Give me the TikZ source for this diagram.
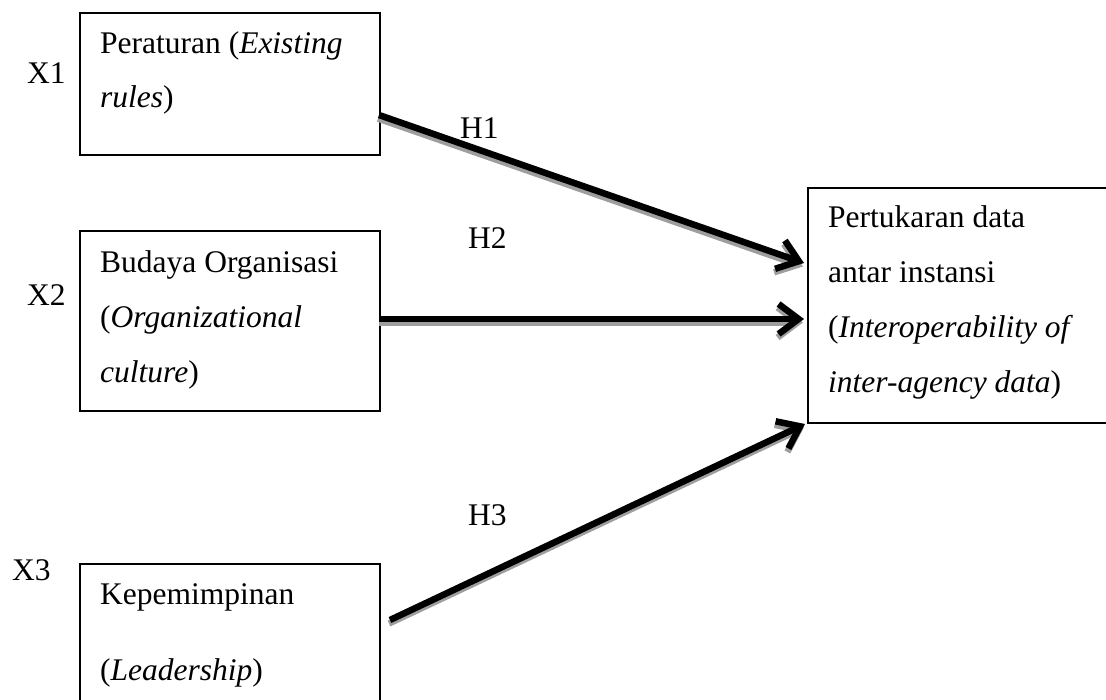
\documentclass[tikz,border=0pt]{standalone}
\usepackage{fontspec}
\setmainfont{Liberation Serif}
\usetikzlibrary{arrows.meta}
\begin{document}
\begin{tikzpicture}[x=1pt,y=-1pt,
  box/.style={draw=black,line width=1.6pt,fill=none,inner sep=0pt,anchor=north west},
  txt/.style={anchor=base west,inner sep=0pt,font=\fontsize{31.5}{38}\selectfont},
  link/.style={line width=6.5pt,-{Straight Barb[length=20pt,width=30pt]}},
  linkshadow/.style={link,draw=black!38}]
\useasboundingbox (0,0) rectangle (1106,699);
\begin{scope}
\clip (0,0) rectangle (1106,699);
% boxes
\node[box,minimum width=300pt,minimum height=142pt] (b1) at (79,12) {};
\node[box,minimum width=300pt,minimum height=180pt] (b2) at (79,230) {};
\node[box,minimum width=300pt,minimum height=150pt] (b3) at (79,563) {};
\node[box,minimum width=305pt,minimum height=235pt] (b4) at (807,187) {};
\end{scope}
% box texts
\node[txt] (t11) at (100,53) {Peraturan (\textit{Existing}};
\node[txt] (t12) at (100,107) {\textit{rules})};
\node[txt] (t21) at (100,272) {Budaya Organisasi};
\node[txt] (t22) at (100,327) {(\textit{Organizational}};
\node[txt] (t23) at (100,382) {\textit{culture})};
\node[txt] (t31) at (100,604) {Kepemimpinan};
\node[txt] (t32) at (100,680) {(\textit{Leadership})};
\node[txt] (t41) at (828,227) {Pertukaran data};
\node[txt] (t42) at (828,282) {antar instansi};
\node[txt] (t43) at (828,337) {(\textit{Interoperability of}};
\node[txt] (t44) at (828,392) {\textit{inter-agency data})};
% variable labels
\node[txt] (x1) at (27,83) {X1};
\node[txt] (x2) at (27,305) {X2};
\node[txt] (x3) at (12,580) {X3};
% connector end points
\coordinate (s1) at (379,115);
\coordinate (e1) at (804,263);
\coordinate (s2) at (379,319);
\coordinate (e2) at (804,319);
\coordinate (s3) at (390,620);
\coordinate (e3) at (805,424);
% shadows
\draw[linkshadow] ([shift={(-1,3.5)}]s1) -- ([shift={(-1,3.5)}]e1);
\draw[linkshadow] ([shift={(0,3.5)}]s2) -- ([shift={(-1,3.5)}]e2);
\draw[linkshadow] ([shift={(-1,3.5)}]s3) -- ([shift={(-1,3.5)}]e3);
% arrows
\draw[link] (s1) -- (e1);
\draw[link] (s2) -- (e2);
\draw[link] (s3) -- (e3);
% hypothesis labels
\node[txt] (h1) at (460,138) {H1};
\node[txt] (h2) at (468,248) {H2};
\node[txt] (h3) at (468,525) {H3};
\end{tikzpicture}
\end{document}
